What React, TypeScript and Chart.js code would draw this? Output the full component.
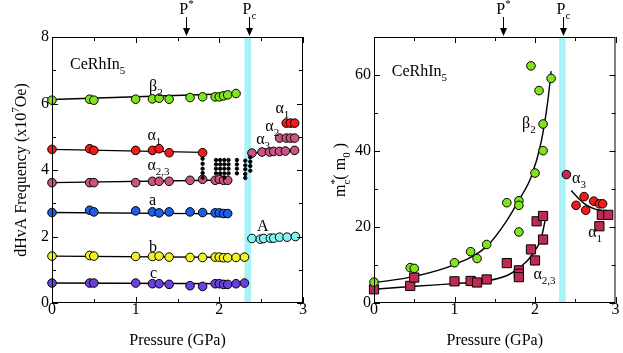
import React, { useEffect, useRef } from "react";
import { Chart, registerables } from "chart.js";
Chart.register(...registerables);

const FONT = "'Liberation Serif', 'Times New Roman', serif";
Chart.defaults.font.family = FONT;

// ---------- Left panel: dHvA frequency (x10^7 Oe) vs pressure ----------
const xTicks = [0, 1, 2, 3];
const xMinor = [0.5, 1.5, 2.5];
const fTicks = [0, 2, 4, 6, 8];
const fMinor = [1, 3, 5, 7];

const beta2P = [0, 0.45, 0.5, 1.0, 1.2, 1.28, 1.4, 1.65, 1.8, 1.95, 2.0, 2.05, 2.1, 2.2];
const beta2F = [6.1, 6.13, 6.1, 6.13, 6.14, 6.16, 6.13, 6.18, 6.2, 6.2, 6.2, 6.23, 6.26, 6.3];
const alpha1P = [0, 0.45, 0.5, 1.0, 1.2, 1.28, 1.4, 1.8];
const alpha1F = [4.62, 4.64, 4.59, 4.59, 4.59, 4.64, 4.52, 4.52];
const alpha23P = [0, 0.45, 0.5, 1.0, 1.2, 1.28, 1.4, 1.65, 1.8, 1.95, 2.0, 2.05, 2.1];
const alpha23F = [3.62, 3.62, 3.62, 3.62, 3.66, 3.66, 3.66, 3.69, 3.72, 3.69, 3.72, 3.69, 3.69];
const aP = [0, 0.45, 0.5, 1.0, 1.2, 1.28, 1.4, 1.65, 1.8, 1.95, 2.0, 2.05, 2.1];
const aF = [2.72, 2.79, 2.74, 2.77, 2.74, 2.71, 2.74, 2.74, 2.72, 2.71, 2.71, 2.69, 2.69];
const bP = [0, 0.45, 0.5, 1.0, 1.2, 1.28, 1.4, 1.65, 1.8, 1.95, 2.0, 2.05, 2.1, 2.2, 2.3];
const bF = [1.41, 1.43, 1.41, 1.4, 1.4, 1.41, 1.38, 1.37, 1.37, 1.38, 1.38, 1.36, 1.36, 1.37, 1.38];
const cP = [0, 0.45, 0.5, 1.0, 1.2, 1.28, 1.4, 1.65, 1.8, 1.95, 2.0, 2.05, 2.1, 2.2, 2.3];
const cF = [0.6, 0.6, 0.6, 0.6, 0.58, 0.58, 0.56, 0.52, 0.5, 0.58, 0.58, 0.56, 0.56, 0.58, 0.6];
const bigAP = [2.39, 2.49, 2.53, 2.61, 2.65, 2.72, 2.81, 2.91];
const bigAF = [1.94, 1.92, 1.94, 1.95, 1.95, 1.98, 1.98, 2.0];
const hpAlpha3P = [2.39, 2.51, 2.6, 2.65, 2.72, 2.79, 2.9];
const hpAlpha3F = [4.51, 4.54, 4.54, 4.56, 4.56, 4.57, 4.59];
const hpAlpha2P = [2.72, 2.8, 2.85, 2.9];
const hpAlpha2F = [4.96, 4.96, 4.96, 4.96];
const hpAlpha1P = [2.8, 2.85, 2.9];
const hpAlpha1F = [5.41, 5.41, 5.41];
const dotsP = [
  1.8, 1.8, 1.8, 1.8, 1.8,
  1.96, 1.96, 1.96, 1.96,
  2.01, 2.01, 2.01, 2.01,
  2.06, 2.06, 2.06, 2.06, 2.06,
  2.11, 2.11, 2.11, 2.11,
  2.21, 2.21, 2.21, 2.21,
  2.31, 2.31, 2.31, 2.31, 2.31,
  2.37, 2.37, 2.37, 2.37,
];
const dotsF = [
  4.34, 4.19, 4.04, 3.91, 3.77,
  4.3, 4.17, 4.04, 3.9,
  4.3, 4.17, 4.04, 3.9,
  4.3, 4.17, 4.04, 3.9, 3.77,
  4.3, 4.17, 4.04, 3.9,
  4.3, 4.17, 4.04, 3.9,
  4.28, 4.14, 4.02, 3.88, 3.76,
  4.38, 4.25, 4.12, 3.98,
];
// fit lines (end points)
const beta2FitP = [0, 2.2];
const beta2FitF = [6.12, 6.3];
const alpha1FitP = [0, 1.8];
const alpha1FitF = [4.62, 4.53];
const alpha23FitP = [0, 2.1];
const alpha23FitF = [3.62, 3.7];
const aFitP = [0, 2.1];
const aFitF = [2.72, 2.68];
const bFitP = [0, 2.3];
const bFitF = [1.41, 1.37];
const cFitP = [0, 2.3];
const cFitF = [0.6, 0.58];
const bigAFitP = [2.39, 2.91];
const bigAFitF = [1.93, 1.99];
const hpA3FitP = [2.39, 2.9];
const hpA3FitF = [4.51, 4.59];

// ---------- Right panel: cyclotron mass m*c (m0) vs pressure ----------
const mTicks = [0, 20, 40, 60];
const mMinor = [10, 30, 50];
const beta2MP = [0, 0.45, 0.5, 1.0, 1.2, 1.28, 1.4, 1.65, 1.8, 1.8, 1.8, 1.95, 2.0, 2.05, 2.1, 2.1, 2.2];
const beta2M = [5.5, 9.3, 9.1, 10.6, 13.5, 11.7, 15.4, 26.4, 26.9, 25.7, 18.7, 62.4, 34.2, 55.9, 47.1, 40.1, 59.1];
const alpha23MP = [0, 0.45, 0.5, 1.0, 1.2, 1.28, 1.4, 1.65, 1.8, 1.8, 1.8, 1.95, 2.0, 2.02, 2.1, 2.1];
const alpha23M = [3.6, 4.5, 6.7, 5.7, 5.8, 5.4, 6.2, 10.5, 8.6, 7.7, 6.8, 14.1, 11.2, 21.5, 22.9, 16.7];
const hpAlpha3MP = [2.39];
const hpAlpha3M = [33.8];
const hpAlpha1MP = [2.51, 2.61, 2.63, 2.73, 2.8, 2.84];
const hpAlpha1M = [25.7, 28.0, 24.4, 26.8, 26.1, 26.1];
const hpSqMP = [2.8, 2.83, 2.91];
const hpSqM = [20.2, 23.2, 23.2];
const beta2CurveP = [0, 0.5, 1.0, 1.4, 1.65, 1.82, 1.95, 2.08, 2.16, 2.2];
const beta2CurveM = [5.3, 7.0, 10.1, 14.9, 21.7, 27.8, 33.0, 42.7, 53.3, 61.0];
const alpha23CurveP = [0, 0.5, 1.0, 1.4, 1.66, 1.82, 1.96, 2.08, 2.13];
const alpha23CurveM = [3.6, 4.4, 5.1, 5.8, 7.3, 9.5, 12.5, 17.3, 22.2];
const hpCurveP = [2.45, 2.55, 2.65, 2.75, 2.83];
const hpCurveM = [29.6, 27.3, 25.6, 24.7, 24.4];

const bandRange = [2.3, 2.38];
const markerP = [1.6, 2.35];

type Part = { t: string; k?: "n" | "b" | "p"; keep?: boolean };
type Lbl = { x: number; y: number; parts: Part[] };

const markerParts: Part[][] = [
  [{ t: "P" }, { t: "*", k: "p" }],
  [{ t: "P" }, { t: "c", k: "b" }],
];

const leftLabels: Lbl[] = [
  { x: 0.215, y: 7.05, parts: [{ t: "CeRhIn" }, { t: "5", k: "b" }] },
  { x: 1.16, y: 6.38, parts: [{ t: "β" }, { t: "2", k: "b" }] },
  { x: 1.14, y: 4.89, parts: [{ t: "α" }, { t: "1", k: "b" }] },
  { x: 1.14, y: 3.99, parts: [{ t: "α" }, { t: "2,3", k: "b" }] },
  { x: 1.16, y: 2.94, parts: [{ t: "a" }] },
  { x: 1.16, y: 1.53, parts: [{ t: "b" }] },
  { x: 1.17, y: 0.76, parts: [{ t: "c" }] },
  { x: 2.45, y: 2.16, parts: [{ t: "A" }] },
  { x: 2.67, y: 5.7, parts: [{ t: "α" }, { t: "1", k: "b" }] },
  { x: 2.55, y: 5.17, parts: [{ t: "α" }, { t: "2", k: "b" }] },
  { x: 2.44, y: 4.77, parts: [{ t: "α" }, { t: "3", k: "b" }] },
];
const rightLabels: Lbl[] = [
  { x: 0.22, y: 59.8, parts: [{ t: "CeRhIn" }, { t: "5", k: "b" }] },
  { x: 1.84, y: 46.0, parts: [{ t: "β" }, { t: "2", k: "b" }] },
  { x: 1.98, y: 6.4, parts: [{ t: "α" }, { t: "2,3", k: "b" }] },
  { x: 2.46, y: 31.5, parts: [{ t: "α" }, { t: "3", k: "b" }] },
  { x: 2.66, y: 17.3, parts: [{ t: "α" }, { t: "1", k: "b" }] },
];

const xTitle: Part[] = [{ t: "Pressure (GPa)" }];
const leftYTitle: Part[] = [{ t: "dHvA Frequency (x10" }, { t: "7", k: "p" }, { t: "Oe)" }];
const rightYTitle: Part[] = [
  { t: "m" },
  { t: "*", k: "p", keep: true },
  { t: "c", k: "b" },
  { t: "( m" },
  { t: "0", k: "b" },
  { t: " )" },
];

const GREEN = "#80e41c";
const RED = "#f41a1a";
const PINK = "#cc5284";
const MAROON = "#c02a50";
const BLUE = "#1c5ee6";
const YELLOW = "#f2f222";
const PURPLE = "#6a40e0";
const CYAN = "#86f2f0";
const BAND = "#a6f2f6";

const BASE = 16;
const SMALL = 11;

function fontFor(p: Part) {
  return `${p.k === "b" || p.k === "p" ? SMALL : BASE}px ${FONT}`;
}

function drawRich(ctx: CanvasRenderingContext2D, parts: Part[], x: number, y: number, align: "left" | "center") {
  const widths = parts.map((p) => {
    ctx.font = fontFor(p);
    return ctx.measureText(p.t).width;
  });
  let cur = 0;
  let maxW = 0;
  parts.forEach((p, i) => {
    maxW = Math.max(maxW, cur + widths[i]);
    if (!p.keep) cur += widths[i];
  });
  const sx = align === "center" ? x - maxW / 2 : x;
  cur = 0;
  ctx.textAlign = "left";
  ctx.textBaseline = "alphabetic";
  parts.forEach((p, i) => {
    ctx.font = fontFor(p);
    const dy = p.k === "b" ? 5 : p.k === "p" ? -7 : 0;
    ctx.fillText(p.t, sx + cur, y + dy);
    if (!p.keep) cur += widths[i];
  });
}

const pts = (xs: number[], ys: number[]) => xs.map((x, i) => ({ x, y: ys[i] }));

function pointSet(xs: number[], ys: number[], color: string, style = "circle", radius = 4.3) {
  return {
    data: pts(xs, ys),
    backgroundColor: color,
    borderColor: "#000",
    borderWidth: 1,
    pointRadius: radius,
    pointStyle: style,
    showLine: false,
    clip: false,
    order: 1,
  };
}
function lineSet(xs: number[], ys: number[], curved = false) {
  return {
    data: pts(xs, ys),
    borderColor: "#000",
    borderWidth: 1.4,
    pointRadius: 0,
    showLine: true,
    clip: false,
    cubicInterpolationMode: curved ? "monotone" : "default",
    order: 5,
  };
}

const decor = {
  id: "decor",
  beforeDatasetsDraw(chart: any, _a: any, o: any) {
    const { ctx, chartArea: a, scales } = chart;
    const x = scales.x;
    ctx.save();
    ctx.fillStyle = BAND;
    const x0 = x.getPixelForValue(o.band[0]);
    const x1 = x.getPixelForValue(o.band[1]);
    ctx.fillRect(x0, a.top, x1 - x0, a.bottom - a.top);
    ctx.restore();
  },
  afterDatasetsDraw(chart: any, _a: any, o: any) {
    const { ctx, chartArea: a, scales } = chart;
    const x = scales.x;
    const y = scales.y;
    ctx.save();
    ctx.strokeStyle = "#000";
    ctx.fillStyle = "#000";
    ctx.lineWidth = 1;
    ctx.strokeRect(a.left + 0.5, a.top + 0.5, a.right - a.left - 1, a.bottom - a.top - 1);
    const tick = (vals: number[], len: number, horiz: boolean) => {
      vals.forEach((v) => {
        ctx.beginPath();
        if (horiz) {
          const px = Math.round(x.getPixelForValue(v)) + 0.5;
          ctx.moveTo(px, a.bottom);
          ctx.lineTo(px, a.bottom - len);
          ctx.moveTo(px, a.top);
          ctx.lineTo(px, a.top + len);
        } else {
          const py = Math.round(y.getPixelForValue(v)) + 0.5;
          ctx.moveTo(a.left, py);
          ctx.lineTo(a.left + len, py);
          ctx.moveTo(a.right, py);
          ctx.lineTo(a.right - len, py);
        }
        ctx.stroke();
      });
    };
    tick(o.xMajor, 6, true);
    tick(o.xMinor, 4, true);
    tick(o.yMajor, 6, false);
    tick(o.yMinor, 4, false);

    // pressure markers
    o.markers.forEach((v: number, i: number) => {
      const px = Math.round(x.getPixelForValue(v)) + 0.5;
      ctx.beginPath();
      ctx.moveTo(px, a.top - 20);
      ctx.lineTo(px, a.top - 6);
      ctx.stroke();
      ctx.beginPath();
      ctx.moveTo(px - 3.5, a.top - 9);
      ctx.lineTo(px + 3.5, a.top - 9);
      ctx.lineTo(px, a.top - 1);
      ctx.closePath();
      ctx.fill();
      drawRich(ctx, markerParts[i], px, 14, "center");
    });

    o.labels.forEach((l: Lbl) => {
      drawRich(ctx, l.parts, x.getPixelForValue(l.x), y.getPixelForValue(l.y), "left");
    });

    drawRich(ctx, xTitle, (a.left + a.right) / 2, 345, "center");
    ctx.save();
    ctx.translate(o.yTitleX, (a.top + a.bottom) / 2);
    ctx.rotate(-Math.PI / 2);
    drawRich(ctx, o.yTitle, 0, 0, "center");
    ctx.restore();
    ctx.restore();
  },
};

function makeScales(yMin: number, yMax: number, yT: number[], yWidth: number) {
  const tickFont = { family: FONT, size: 16 };
  return {
    x: {
      type: "linear",
      min: 0,
      max: 3,
      grid: { display: false, drawTicks: false },
      border: { display: false },
      ticks: { color: "#000", font: tickFont, padding: -3, maxRotation: 0 },
      afterBuildTicks: (s: any) => {
        s.ticks = xTicks.map((v) => ({ value: v }));
      },
      afterFit: (s: any) => {
        s.height = 50;
      },
    },
    y: {
      type: "linear",
      min: yMin,
      max: yMax,
      grid: { display: false, drawTicks: false },
      border: { display: false },
      ticks: { color: "#000", font: tickFont, padding: 3 },
      afterBuildTicks: (s: any) => {
        s.ticks = yT.map((v) => ({ value: v }));
      },
      afterFit: (s: any) => {
        s.width = yWidth;
      },
    },
  };
}

export default function App() {
  const leftRef = useRef<HTMLCanvasElement>(null);
  const rightRef = useRef<HTMLCanvasElement>(null);

  useEffect(() => {
    const left = new Chart(leftRef.current as HTMLCanvasElement, {
      type: "scatter",
      data: {
        datasets: [
          pointSet(dotsP, dotsF, "#000", "circle", 1.7) as any,
          pointSet(beta2P, beta2F, GREEN),
          pointSet(alpha1P, alpha1F, RED),
          pointSet(alpha23P, alpha23F, PINK),
          pointSet(aP, aF, BLUE),
          pointSet(bP, bF, YELLOW),
          pointSet(cP, cF, PURPLE),
          pointSet(bigAP, bigAF, CYAN),
          pointSet(hpAlpha3P, hpAlpha3F, PINK),
          pointSet(hpAlpha2P, hpAlpha2F, PINK),
          pointSet(hpAlpha1P, hpAlpha1F, RED),
          lineSet(beta2FitP, beta2FitF),
          lineSet(alpha1FitP, alpha1FitF),
          lineSet(alpha23FitP, alpha23FitF),
          lineSet(aFitP, aFitF),
          lineSet(bFitP, bFitF),
          lineSet(cFitP, cFitF),
          lineSet(bigAFitP, bigAFitF),
          lineSet(hpA3FitP, hpA3FitF),
        ] as any,
      },
      options: {
        animation: false,
        responsive: false,
        layout: { padding: { top: 37, right: 7, left: 0, bottom: 0 } },
        plugins: {
          legend: { display: false },
          tooltip: { enabled: false },
          decor: {
            band: bandRange,
            xMajor: xTicks,
            xMinor: xMinor,
            yMajor: fTicks,
            yMinor: fMinor,
            markers: markerP,
            labels: leftLabels,
            yTitle: leftYTitle,
            yTitleX: 26,
          },
        } as any,
        scales: makeScales(0, 8, fTicks, 52) as any,
      },
      plugins: [decor],
    });

    const right = new Chart(rightRef.current as HTMLCanvasElement, {
      type: "scatter",
      data: {
        datasets: [
          pointSet(beta2MP, beta2M, GREEN),
          pointSet(alpha23MP, alpha23M, MAROON, "rect", 6.5),
          pointSet(hpAlpha3MP, hpAlpha3M, MAROON),
          pointSet(hpAlpha1MP, hpAlpha1M, RED),
          pointSet(hpSqMP, hpSqM, MAROON, "rect", 6.5),
          lineSet(beta2CurveP, beta2CurveM, true),
          lineSet(alpha23CurveP, alpha23CurveM, true),
          lineSet(hpCurveP, hpCurveM, true),
        ] as any,
      },
      options: {
        animation: false,
        responsive: false,
        layout: { padding: { top: 37, right: 5, left: 0, bottom: 0 } },
        plugins: {
          legend: { display: false },
          tooltip: { enabled: false },
          decor: {
            band: bandRange,
            xMajor: xTicks,
            xMinor: xMinor,
            yMajor: mTicks,
            yMinor: mMinor,
            markers: markerP,
            labels: rightLabels,
            yTitle: rightYTitle,
            yTitleX: 345 - 310,
          },
        } as any,
        scales: makeScales(0, 70, mTicks, 64) as any,
      },
      plugins: [decor],
    });

    return () => {
      left.destroy();
      right.destroy();
    };
  }, []);

  return (
    <div style={{ position: "absolute", left: 0, top: 0, width: 623, height: 353, background: "#fff" }}>
      <canvas ref={leftRef} width={310} height={353} style={{ position: "absolute", left: 0, top: 0, width: 310, height: 353 }} />
      <canvas ref={rightRef} width={313} height={353} style={{ position: "absolute", left: 310, top: 0, width: 313, height: 353 }} />
    </div>
  );
}
